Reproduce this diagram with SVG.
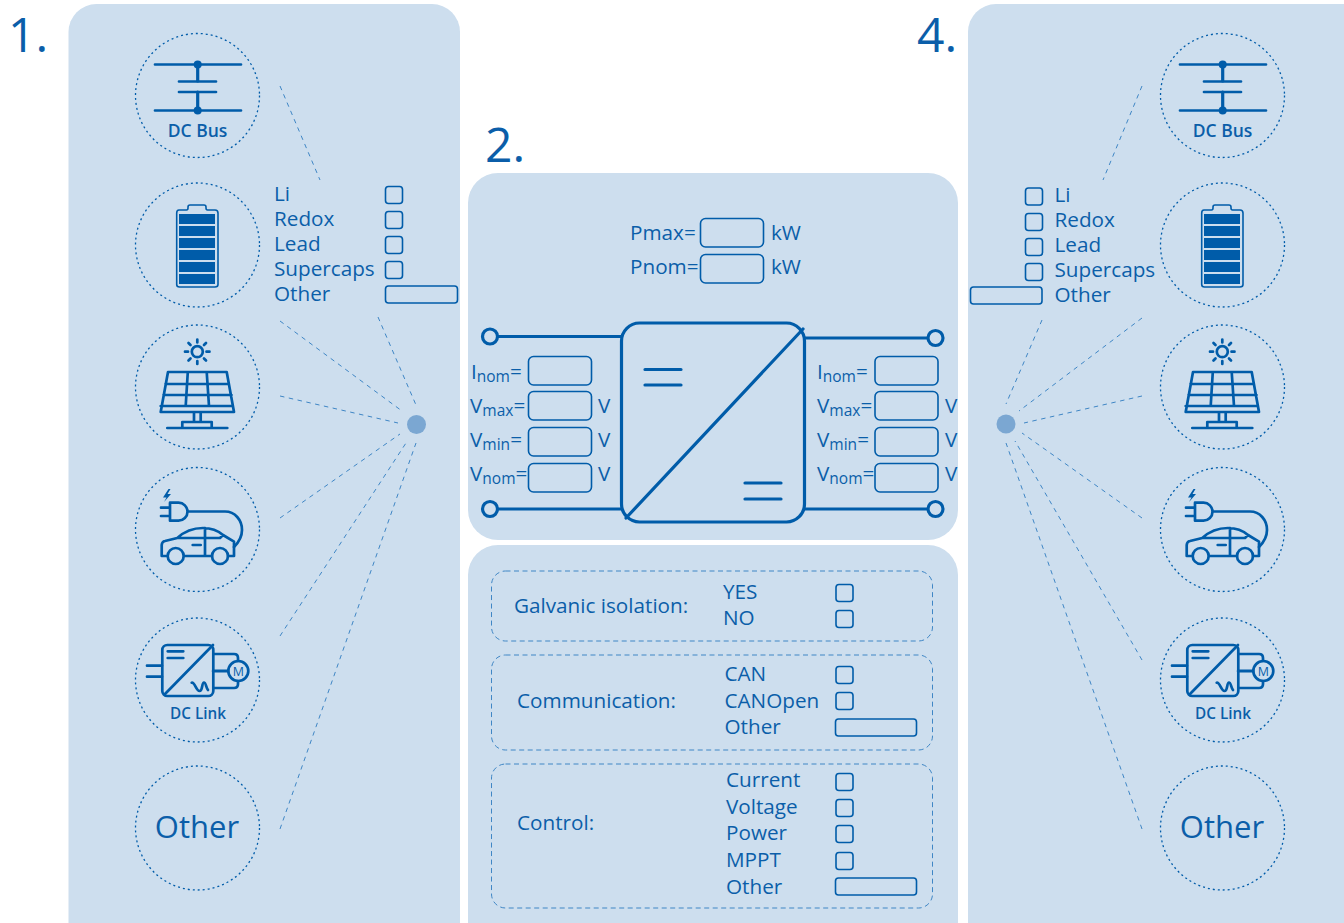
<svg xmlns="http://www.w3.org/2000/svg" width="1344" height="923" viewBox="0 0 1344 923">
<style>
text{font-family:"Open Sans","Noto Sans","Liberation Sans",sans-serif;fill:#0b5ea9}
.p{fill:#cddeee}
.l{font-size:20.700px}
.n{font-size:48px}
.s{font-size:15.500px}
.b{fill:none;stroke:#005ca9;stroke-width:1.600}
.w{fill:none;stroke:#005ca9;stroke-width:2.700;stroke-linecap:round;stroke-linejoin:round}
.m{fill:none;stroke:#005ca9;stroke-width:3.200;stroke-linecap:round;stroke-linejoin:round}
.f{fill:#005ca9}
.c{fill:none;stroke:#005ca9;stroke-width:1.300;stroke-dasharray:2 3}
.d{fill:none;stroke:#3f86c5;stroke-width:1;stroke-dasharray:4.500 4.500}
.g{fill:none;stroke:#3f86c5;stroke-width:1;stroke-dasharray:5 3.500}
.h{fill:#7ba7d2}
.t{font-weight:600;text-anchor:middle}
</style>
<defs>
<rect id="cb" x=".5" y=".5" width="17" height="17" rx="3" class="b"/>
<rect id="fld" x=".5" y=".5" width="63" height="28.500" rx="5" class="b"/>
<g id="ibus"><path class="w" d="M155 64.500H241M179 81.500H216M179 92H216M155 110.500H241"/><path class="m" d="M197.700 64V81M197.700 92V110"/><circle class="f" cx="197.700" cy="64.500" r="4"/><circle class="f" cx="197.700" cy="110.500" r="4"/></g>
<g id="ibat"><path class="b" d="M179 210H186.500Q188 210 188 208V207Q188 205 190 205H204Q206 205 206 207V208Q206 210 207.500 210H215Q218 210 218 213V284.500Q218 287 215 287H179.500Q176.700 287 176.700 284.500V213Q176.700 210 179 210Z"/><g class="f"><rect x="179" y="214" width="36" height="10"/><rect x="179" y="226" width="36" height="10"/><rect x="179" y="238" width="36" height="10"/><rect x="179" y="250" width="36" height="10"/><rect x="179" y="262" width="36" height="10"/><rect x="179" y="274" width="36" height="10"/></g></g>
<g id="isol"><circle class="w" cx="197.300" cy="351.700" r="5.500"/><path class="w" d="M197.300 339.500V342.500M197.300 361V364M185 351.700H188M206.500 351.700H209.500M188.500 343L190.500 345M204 358.500L206 360.500M206 343L204 345M190.500 358.500L188.500 360.500"/><path class="w" d="M168 372H226.700L234 412H160.700ZM160.700 406H233M165.500 384H229M163.500 395H231.500M187.800 372L185.700 406M206.700 372L209 406M194 412V422M200.700 412V422M182.300 428V422H211.700V428M167.300 428H227.300"/></g>
<g id="iev"><path class="f" d="M168.500 489L163 497.500H166.500L164 502L171 494H167.500L170.500 489Z"/><path class="w" d="M170 502.700H178.500A9 9 0 0 1 178.500 520.700H170ZM161 507.700H170M161 516H170M187.700 511.500H225C235 511.500 242 520 242 530C242 538 238 543 234 547"/><path class="w" d="M167.500 556H161.700V545Q162 541.500 165 541L177.300 538Q188 528 203 528Q215 528 223 535L234 541.700V556H228M184 556H212M205 528V556M177.300 538H220L223 535M192.700 545H200.700"/><circle class="w" cx="175.700" cy="556" r="8"/><circle class="w" cx="220" cy="556" r="8"/></g>
<g id="ilnk"><rect class="w" x="162.300" y="645" width="51" height="51" rx="5"/><path class="w" d="M213 645L165 694M167.700 651.300H183.300M167.700 658H183.300M147 665.700H162M147 676.700H162M191.700 682.700C195 682 196 691 199.500 691C203 691 201.500 682.500 204 682.500C206 682.500 206 688 208 690"/><path class="w" d="M213.300 654H234Q238 654 238 658V661M213.300 688H234Q238 688 238 684V681"/><path class="m" d="M213.300 671H228"/><circle class="w" cx="238.300" cy="671" r="10"/><text class="t" x="238.300" y="675.500" font-size="12.500" style="font-weight:400">M</text></g>
</defs>

<g id="panel-1">
<rect class="p" x="68.500" y="4" width="391.500" height="960" rx="28"/>
<text class="n" x="8" y="52">1.</text>
</g>
<g id="panel-2">
<rect class="p" x="468" y="173" width="490" height="367" rx="30"/>
<text class="n" x="485" y="162">2.</text>
</g>
<g id="panel-3"><rect class="p" x="468" y="545" width="490" height="420" rx="30"/></g>
<g id="panel-4">
<rect class="p" x="968" y="4" width="420" height="960" rx="28"/>
<text class="n" x="917" y="52">4.</text>
</g>

<g id="connectors">
<path class="d" d="M280 86L320 180M378 317L416 405M280 321L402 411M280 396L398 423M280 518L400 434M280 636L406 443M280 829L416 443"/>
<path class="d" d="M1142 86L1103 180M1042 320L1006 404M1142 318L1019 411M1142 396L1024 423M1142 518L1022 433M1142 660L1015 441M1142 829L1006 443"/>
</g>
<g id="hub-left"><circle class="h" cx="416.500" cy="424.500" r="9.500"/></g>
<g id="hub-right"><circle class="h" cx="1006" cy="424" r="9.500"/></g>

<g id="l-bus"><circle class="c" cx="197.500" cy="95.500" r="62"/><use href="#ibus"/><text class="t" x="197.500" y="136.500" font-size="17.500">DC Bus</text></g>
<g id="l-bat"><circle class="c" cx="197.500" cy="245" r="62"/><use href="#ibat"/></g>
<g id="l-sol"><circle class="c" cx="197.500" cy="387" r="62"/><use href="#isol"/></g>
<g id="l-ev"><circle class="c" cx="197.500" cy="529.500" r="62"/><use href="#iev"/></g>
<g id="l-lnk"><circle class="c" cx="197.500" cy="680" r="62"/><use href="#ilnk"/><text class="t" x="198" y="718.500" font-size="15.300">DC Link</text></g>
<g id="l-oth"><circle class="c" cx="197.500" cy="828" r="62"/><text x="197" y="838" font-size="31" text-anchor="middle">Other</text></g>

<g id="r-bus" transform="translate(1025 0)"><circle class="c" cx="197.500" cy="95.500" r="62"/><use href="#ibus"/><text class="t" x="197.500" y="136.500" font-size="17.500">DC Bus</text></g>
<g id="r-bat" transform="translate(1025 0)"><circle class="c" cx="197.500" cy="245" r="62"/><use href="#ibat"/></g>
<g id="r-sol" transform="translate(1025 0)"><circle class="c" cx="197.500" cy="387" r="62"/><use href="#isol"/></g>
<g id="r-ev" transform="translate(1025 0)"><circle class="c" cx="197.500" cy="529.500" r="62"/><use href="#iev"/></g>
<g id="r-lnk" transform="translate(1025 0)"><circle class="c" cx="197.500" cy="680" r="62"/><use href="#ilnk"/><text class="t" x="198" y="718.500" font-size="15.300">DC Link</text></g>
<g id="r-oth" transform="translate(1025 0)"><circle class="c" cx="197.500" cy="828" r="62"/><text x="197" y="838" font-size="31" text-anchor="middle">Other</text></g>

<g id="l-list" class="l">
<text x="274" y="200.500">Li</text><text x="274" y="225.500">Redox</text><text x="274" y="250.500">Lead</text><text x="274" y="275.500">Supercaps</text><text x="274" y="300.500">Other</text>
<use href="#cb" x="385" y="186"/><use href="#cb" x="385" y="211"/><use href="#cb" x="385" y="236"/><use href="#cb" x="385" y="261"/>
<rect x="385.500" y="286" width="72" height="17" rx="3" class="b"/>
</g>
<g id="r-list" class="l">
<text x="1054.500" y="202">Li</text><text x="1054.500" y="227">Redox</text><text x="1054.500" y="252">Lead</text><text x="1054.500" y="277">Supercaps</text><text x="1054.500" y="302">Other</text>
<use href="#cb" x="1025" y="187.500"/><use href="#cb" x="1025" y="213"/><use href="#cb" x="1025" y="238"/><use href="#cb" x="1025" y="263"/>
<rect x="970.500" y="287" width="71.500" height="17" rx="3" class="b"/>
</g>

<g id="power" class="l">
<text x="630" y="239.500">Pmax=</text><use href="#fld" x="700" y="218"/><text x="771" y="239.500">kW</text>
<text x="630" y="273.500">Pnom=</text><use href="#fld" x="700" y="254"/><text x="771" y="273.500">kW</text>
</g>

<g id="converter">
<rect x="621.500" y="323" width="183" height="199" rx="18" fill="none" stroke="#005ca9" stroke-width="3.200"/>
<path class="m" d="M803 329L626 518M645 369.500H681M645 385H681M745 483H781M745 499H781"/>
<path class="m" d="M498 336.500H621M498 509H621M805 338H927M805 509H927"/>
<g fill="none" stroke="#005ca9" stroke-width="3.200"><circle cx="490" cy="336.500" r="7.500"/><circle cx="490" cy="509" r="7.500"/><circle cx="935.500" cy="338" r="7.500"/><circle cx="935.500" cy="509" r="7.500"/></g>
</g>

<g id="left-port" class="l">
<text x="471" y="378.500">I<tspan class="s" dy="3">nom</tspan><tspan dy="-3">=</tspan></text>
<text x="470" y="412.500">V<tspan class="s" dy="3">max</tspan><tspan dy="-3">=</tspan></text>
<text x="470" y="446.500">V<tspan class="s" dy="3">min</tspan><tspan dy="-3">=</tspan></text>
<text x="470" y="480.500">V<tspan class="s" dy="3">nom</tspan><tspan dy="-3">=</tspan></text>
<use href="#fld" x="528" y="356"/><use href="#fld" x="528" y="391"/><use href="#fld" x="528" y="427"/><use href="#fld" x="528" y="463"/>
<text x="598" y="412.500">V</text><text x="598" y="446.500">V</text><text x="598" y="480.500">V</text>
</g>
<g id="right-port" class="l">
<text x="817" y="378.500">I<tspan class="s" dy="3">nom</tspan><tspan dy="-3">=</tspan></text>
<text x="817" y="412.500">V<tspan class="s" dy="3">max</tspan><tspan dy="-3">=</tspan></text>
<text x="817" y="446.500">V<tspan class="s" dy="3">min</tspan><tspan dy="-3">=</tspan></text>
<text x="817" y="480.500">V<tspan class="s" dy="3">nom</tspan><tspan dy="-3">=</tspan></text>
<use href="#fld" x="874.500" y="356"/><use href="#fld" x="874.500" y="391"/><use href="#fld" x="874.500" y="427"/><use href="#fld" x="874.500" y="463"/>
<text x="945" y="412.500">V</text><text x="945" y="446.500">V</text><text x="945" y="480.500">V</text>
</g>

<g id="galvanic" class="l">
<rect class="g" x="491.500" y="571" width="441" height="70" rx="14"/>
<text x="514" y="613">Galvanic isolation:</text>
<text x="723" y="599">YES</text><text x="723" y="625">NO</text>
<use href="#cb" x="835.500" y="584"/><use href="#cb" x="835.500" y="610"/>
</g>
<g id="communication" class="l">
<rect class="g" x="491.500" y="655" width="441" height="95" rx="14"/>
<text x="517" y="708">Communication:</text>
<text x="724.500" y="681">CAN</text><text x="724.500" y="708">CANOpen</text><text x="724.500" y="734">Other</text>
<use href="#cb" x="835.500" y="666"/><use href="#cb" x="835.500" y="692"/>
<rect x="835.500" y="719" width="81" height="17" rx="3" class="b"/>
</g>
<g id="control" class="l">
<rect class="g" x="491.500" y="764" width="441" height="144" rx="14"/>
<text x="517" y="830">Control:</text>
<text x="726" y="787">Current</text><text x="726" y="814">Voltage</text><text x="726" y="840">Power</text><text x="726" y="867">MPPT</text><text x="726" y="894">Other</text>
<use href="#cb" x="835.500" y="773"/><use href="#cb" x="835.500" y="799"/><use href="#cb" x="835.500" y="825"/><use href="#cb" x="835.500" y="852"/>
<rect x="835.500" y="878" width="81" height="17" rx="3" class="b"/>
</g>
</svg>
